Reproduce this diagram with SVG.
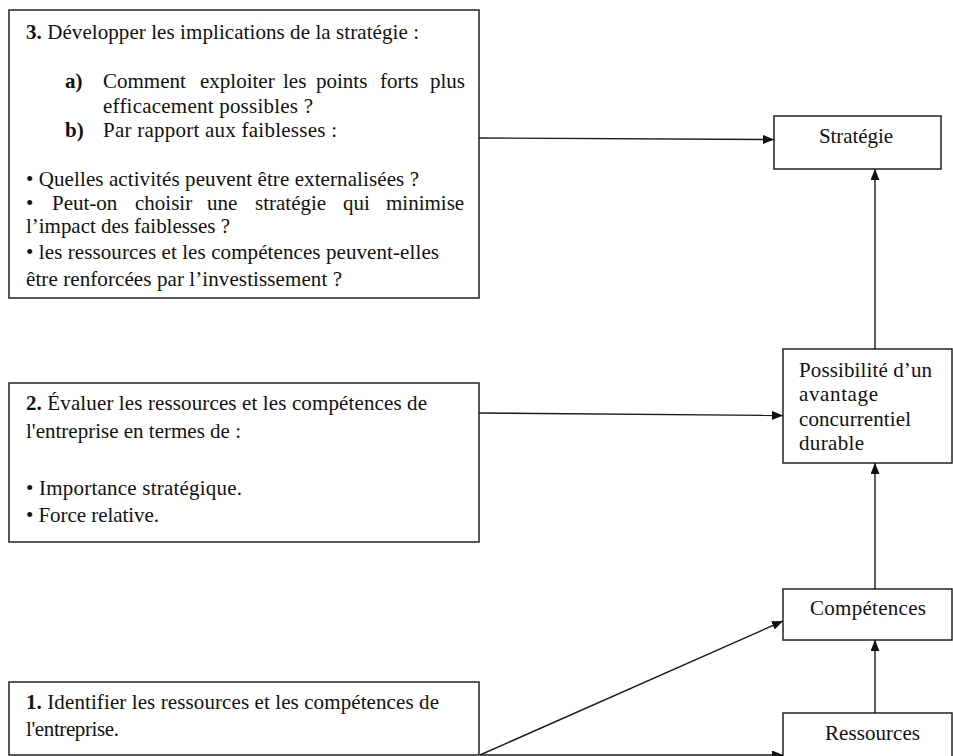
<svg xmlns="http://www.w3.org/2000/svg" width="953" height="756" viewBox="0 0 953 756">
  <style>
    .box { fill: #ffffff; stroke: #222222; stroke-width: 1.5; }
    .txt { font-family: "Liberation Serif", "Times New Roman", serif; font-size: 21px; fill: #111111; }
    .b { font-weight: bold; }
    .link { fill: none; stroke: #1a1a1a; stroke-width: 1.4; }
  </style>
  <defs>
    <marker id="arrow" markerUnits="userSpaceOnUse" markerWidth="12" markerHeight="10" refX="11" refY="4.5" orient="auto">
      <path d="M0,0 L11,4.5 L0,9 Z" fill="#111111"/>
    </marker>
  </defs>

  <rect width="953" height="756" fill="#ffffff"/>

  <!-- Step 3 -->
  <g id="step3">
    <rect class="box" x="9" y="10" width="470" height="288"/>
    <text class="txt" x="26" y="39" textLength="393" lengthAdjust="spacing"><tspan class="b">3.</tspan> Développer les implications de la stratégie :</text>
    <text class="txt b" x="65" y="88">a)</text>
    <text class="txt" y="88"><tspan x="103">Comment</tspan><tspan x="200">exploiter</tspan><tspan x="283">les</tspan><tspan x="316">points</tspan><tspan x="380">forts</tspan><tspan x="430">plus</tspan></text>
    <text class="txt" x="103" y="113" textLength="210" lengthAdjust="spacing">efficacement possibles ?</text>
    <text class="txt b" x="65" y="137">b)</text>
    <text class="txt" x="103" y="137" textLength="234" lengthAdjust="spacing">Par rapport aux faiblesses :</text>
    <text class="txt" x="26" y="186" textLength="393" lengthAdjust="spacing">• Quelles activités peuvent être externalisées ?</text>
    <text class="txt" y="210"><tspan x="26">•</tspan><tspan x="52">Peut-on</tspan><tspan x="135">choisir</tspan><tspan x="207">une</tspan><tspan x="255">stratégie</tspan><tspan x="343">qui</tspan><tspan x="386">minimise</tspan></text>
    <text class="txt" x="26" y="233" textLength="204" lengthAdjust="spacing">l’impact des faiblesses ?</text>
    <text class="txt" x="26" y="259" textLength="413" lengthAdjust="spacing">• les ressources et les compétences peuvent-elles</text>
    <text class="txt" x="26" y="286" textLength="316" lengthAdjust="spacing">être renforcées par l’investissement ?</text>
  </g>

  <!-- Step 2 -->
  <g id="step2">
    <rect class="box" x="9" y="383" width="470" height="159"/>
    <text class="txt" x="26" y="410" textLength="401" lengthAdjust="spacing"><tspan class="b">2.</tspan> Évaluer les ressources et les compétences de</text>
    <text class="txt" x="26" y="438" textLength="215" lengthAdjust="spacing">l'entreprise  en termes de :</text>
    <text class="txt" x="26" y="495" textLength="216" lengthAdjust="spacing">• Importance stratégique.</text>
    <text class="txt" x="26" y="522" textLength="133" lengthAdjust="spacing">• Force relative.</text>
  </g>

  <!-- Step 1 -->
  <g id="step1">
    <rect class="box" x="9" y="682" width="470" height="73"/>
    <text class="txt" x="26" y="709" textLength="413" lengthAdjust="spacing"><tspan class="b">1.</tspan> Identifier les ressources et les compétences de</text>
    <text class="txt" x="26" y="736" textLength="93" lengthAdjust="spacing">l'entreprise.</text>
  </g>

  <!-- Right column -->
  <g id="strategie">
    <rect class="box" x="774" y="116" width="167" height="53"/>
    <text class="txt" x="819" y="143" textLength="74" lengthAdjust="spacing">Stratégie</text>
  </g>

  <g id="avantage">
    <rect class="box" x="783" y="349" width="169" height="114"/>
    <text class="txt" x="799" y="377" textLength="133" lengthAdjust="spacing">Possibilité  d’un</text>
    <text class="txt" x="799" y="401" textLength="79" lengthAdjust="spacing">avantage</text>
    <text class="txt" x="799" y="426" textLength="112" lengthAdjust="spacing">concurrentiel</text>
    <text class="txt" x="799" y="450" textLength="65" lengthAdjust="spacing">durable</text>
  </g>

  <g id="competences">
    <rect class="box" x="783" y="589" width="169" height="51"/>
    <text class="txt" x="810" y="615" textLength="116" lengthAdjust="spacing">Compétences</text>
  </g>

  <g id="ressources">
    <rect class="box" x="783" y="713" width="169" height="60"/>
    <text class="txt" x="825" y="740" textLength="95" lengthAdjust="spacing">Ressources</text>
  </g>

  <!-- Connectors -->
  <g id="connectors">
    <line class="link" x1="479" y1="138" x2="774" y2="139.5" marker-end="url(#arrow)"/>
    <line class="link" x1="479" y1="413" x2="783" y2="415.5" marker-end="url(#arrow)"/>
    <line class="link" x1="480" y1="755" x2="783" y2="621" marker-end="url(#arrow)"/>
    <line class="link" x1="480" y1="755" x2="783" y2="755" marker-end="url(#arrow)"/>
    <line class="link" x1="875" y1="713" x2="875" y2="640" marker-end="url(#arrow)"/>
    <line class="link" x1="875" y1="589" x2="875" y2="463" marker-end="url(#arrow)"/>
    <line class="link" x1="875" y1="349" x2="875" y2="169" marker-end="url(#arrow)"/>
  </g>
</svg>
